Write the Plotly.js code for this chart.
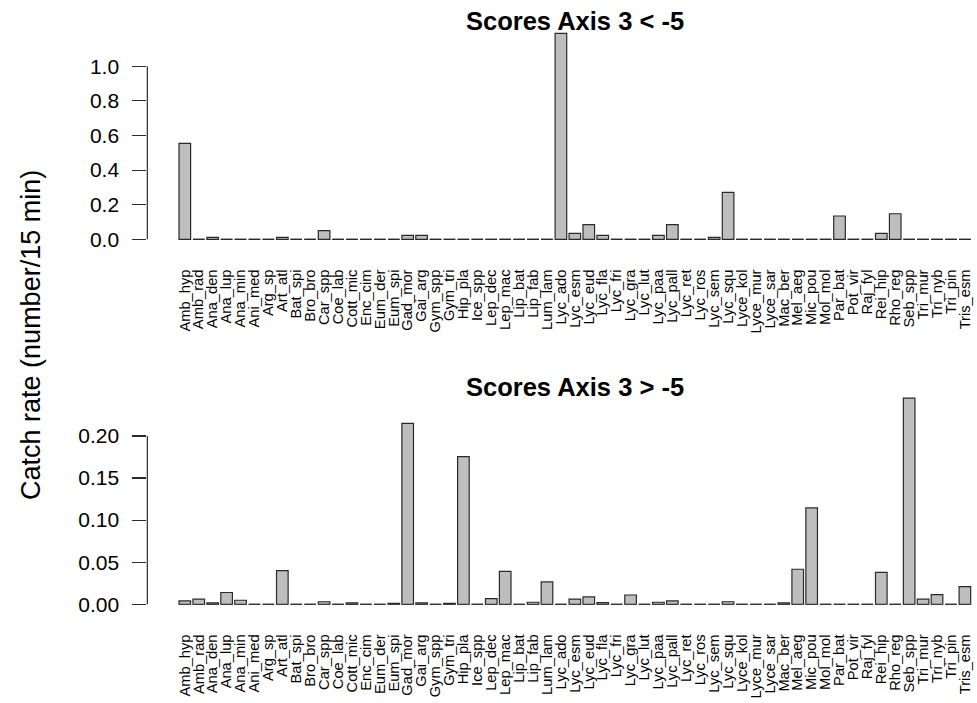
<!DOCTYPE html>
<html>
<head>
<meta charset="utf-8">
<script src="https://cdn.plot.ly/plotly-3.0.1.min.js"></script>
<style>
html,body{margin:0;padding:0;background:#fff;}
#chart{width:977px;height:703px;}
</style>
</head>
<body>
<div id="chart"></div>
<script>
const species = ["Amb_hyp","Amb_rad","Ana_den","Ana_lup","Ana_min","Ani_med","Arg_sp","Art_atl","Bat_spi","Bro_bro",
"Car_spp","Coe_lab","Cott_mic","Enc_cim","Eum_der","Eum_spi","Gad_mor","Gai_arg","Gym_spp","Gym_tri",
"Hip_pla","Ice_spp","Lep_dec","Lep_mac","Lip_bat","Lip_fab","Lum_lam","Lyc_ado","Lyc_esm","Lyc_eud",
"Lyc_fla","Lyc_fri","Lyc_gra","Lyc_lut","Lyc_paa","Lyc_pall","Lyc_ret","Lyc_ros","Lyc_sem","Lyc_squ",
"Lyce_kol","Lyce_mur","Lyce_sar","Mac_ber","Mel_aeg","Mic_pou","Mol_mol","Par_bat","Pot_vir","Raj_fyl",
"Rei_hip","Rho_reg","Seb_spp","Tri_mur","Tri_nyb","Tri_pin","Tris_esm"];

// Scores Axis 3 < -5
const rateLow = [0.555,0,0.012,0,0,0,0,0.012,0,0,
0.05,0,0,0,0,0,0.023,0.023,0,0,
0,0,0,0,0,0,0,1.19,0.035,0.085,
0.023,0,0,0,0.023,0.085,0,0,0.012,0.272,
0,0,0,0,0,0,0,0.135,0,0,
0.035,0.148,0,0,0,0,0];

// Scores Axis 3 > -5
const rateHigh = [0.004,0.006,0.0016,0.014,0.0048,0,0,0.040,0,0,
0.003,0,0.0016,0,0,0.001,0.215,0.0016,0,0.001,
0.1755,0,0.0067,0.0392,0,0.0024,0.0265,0,0.006,0.0087,
0.002,0,0.011,0,0.0024,0.004,0,0,0,0.003,
0,0,0,0.0016,0.0416,0.1145,0,0,0,0,
0.038,0,0.245,0.006,0.0115,0,0.021];

const titles = ["Scores Axis 3 < -5", "Scores Axis 3 > -5"];
const yTitle = "Catch rate (number/15 min)";
const ticksLow = [0,0.2,0.4,0.6,0.8,1.0];
const ticksHigh = [0,0.05,0.10,0.15,0.20];

const FONT = "Liberation Sans, Arial, Helvetica, sans-serif";
const idx = species.map((_, i) => i);
const barStyle = {color: "#BEBEBE", line: {color: "#2a2a2a", width: 1.2}};

const traces = [
  {type: "bar", x: idx, y: rateLow, marker: barStyle, xaxis: "x", yaxis: "y", hoverinfo: "y", showlegend: false},
  {type: "bar", x: idx, y: rateHigh, marker: barStyle, xaxis: "x2", yaxis: "y2", hoverinfo: "y", showlegend: false}
];

const xDom = [0.1508, 1];
const xRange = [-2.69, 56.87];
function xAxis(anchor) {
  return {
    domain: xDom, range: xRange, anchor: anchor,
    tickmode: "array", tickvals: idx, ticktext: species,
    tickangle: -90, ticks: "", showline: false, showgrid: false, zeroline: false,
    tickfont: {family: FONT, size: 14.7, color: "#000"},
    ticklabelstandoff: 18
  };
}
function yAxis(dom, range, ticks, fmt, anchor) {
  return {
    domain: dom, range: range, anchor: anchor,
    tickmode: "array", tickvals: ticks, ticktext: ticks.map(v => v.toFixed(fmt)),
    ticks: "outside", ticklen: 14, tickwidth: 1.2, tickcolor: "#2a2a2a",
    showline: false, showgrid: false, zeroline: false,
    tickfont: {family: FONT, size: 21, color: "#000"},
    ticklabelstandoff: 9
  };
}

const half = 0.8333 / 2;
const shapes = [];
[["x", "y", ticksLow], ["x2", "y2", ticksHigh]].forEach(([xa, ya, tk]) => {
  shapes.push({type: "line", xref: "paper", yref: ya, x0: xDom[0], x1: xDom[0], y0: tk[0], y1: tk[tk.length - 1],
    line: {color: "#2a2a2a", width: 1.2}});
  shapes.push({type: "line", xref: xa, yref: ya, x0: -half, x1: species.length - 1 + half, y0: 0, y1: 0,
    layer: "below", line: {color: "#2a2a2a", width: 1.2, dash: "11.6px,2.33px"}});
});

const layout = {
  width: 977, height: 703,
  margin: {l: 0, r: 0, t: 0, b: 0},
  paper_bgcolor: "#fff", plot_bgcolor: "#fff",
  bargap: 0.1667,
  font: {family: FONT, color: "#000"},
  xaxis: xAxis("y"),
  xaxis2: xAxis("y2"),
  yaxis: yAxis([0.6478, 0.9643], [-0.0476, 1.238], ticksLow, 1, "x"),
  yaxis2: yAxis([0.1287, 0.4457], [-0.0098, 0.255], ticksHigh, 2, "x2"),
  shapes: shapes,
  annotations: [
    {text: "<b>" + titles[0].replace("<", "&lt;") + "</b>", xref: "paper", yref: "paper", x: 0.5885, y: 0.9705,
      xanchor: "center", yanchor: "middle", showarrow: false, font: {family: FONT, size: 25.5, color: "#000"}},
    {text: "<b>" + titles[1].replace(">", "&gt;") + "</b>", xref: "paper", yref: "paper", x: 0.5885, y: 0.4502,
      xanchor: "center", yanchor: "middle", showarrow: false, font: {family: FONT, size: 25.5, color: "#000"}},
    {text: yTitle, xref: "paper", yref: "paper", x: 0.0317, y: 0.5235, textangle: -90,
      xanchor: "center", yanchor: "middle", showarrow: false, font: {family: FONT, size: 27, color: "#000"}}
  ]
};

Plotly.newPlot("chart", traces, layout, {displayModeBar: false, staticPlot: true});
</script>
</body>
</html>
